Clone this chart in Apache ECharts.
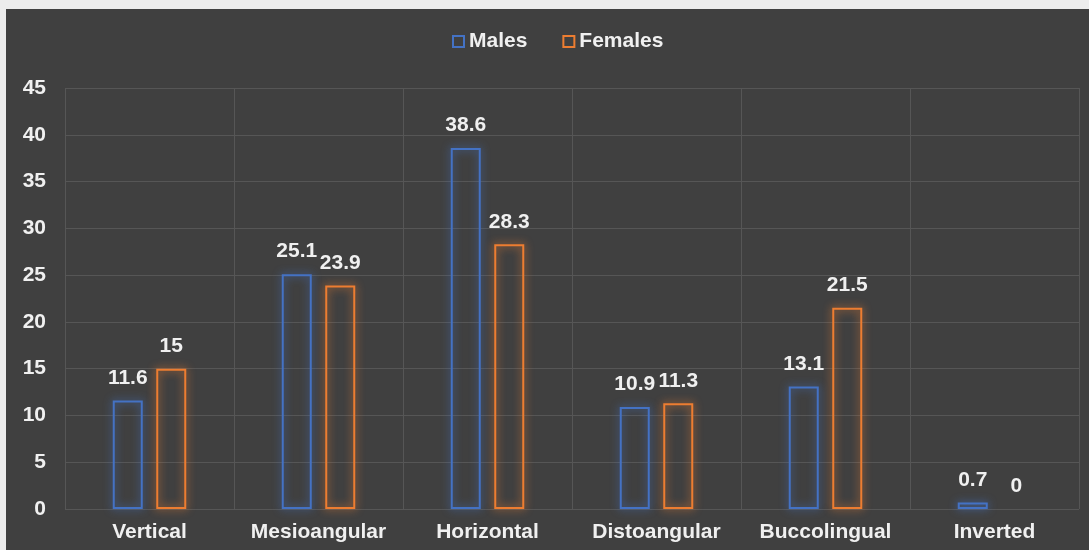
<!DOCTYPE html>
<html>
<head>
<meta charset="utf-8">
<script src="https://cdn.jsdelivr.net/npm/echarts@6/dist/echarts.min.js"></script>
<style>
html,body{margin:0;padding:0;background:#ececec;width:1089px;height:550px;overflow:hidden;}
#c{position:absolute;left:6px;top:9px;width:1083px;height:541px;background:#404040;}
</style>
</head>
<body>
<div id="c"></div>
<script>
var categories = ['Vertical', 'Mesioangular', 'Horizontal', 'Distoangular', 'Buccolingual', 'Inverted'];
var males = [11.6, 25.1, 38.6, 10.9, 13.1, 0.7];
var females = [15, 23.9, 28.3, 11.3, 21.5, 0];
var yTicks = {min: 0, max: 45, interval: 5};

var font = '"Liberation Sans", Arial, sans-serif';
var txt = '#f0f0f0';
function mk(name, data, color) {
  return {
    name: name, type: 'bar',
    data: data.map(function (v) {
      return v === 0 ? {value: v, itemStyle: {borderWidth: 0, shadowBlur: 0}} : v;
    }),
    barWidth: 30, barGap: '45%',
    itemStyle: {color: 'rgba(64,64,64,0)', borderColor: color, borderWidth: 2,
      shadowBlur: 8, shadowColor: color},
    label: {show: true, position: 'top', distance: 12, color: txt,
      fontFamily: font, fontWeight: 'bold', fontSize: 21}
  };
}
var chart = echarts.init(document.getElementById('c'));
chart.setOption({
  backgroundColor: '#404040',
  animation: false,
  legend: {
    top: 22, left: 446, padding: 0, itemWidth: 11, itemHeight: 11, itemGap: 35,
    textStyle: {color: txt, fontFamily: font, fontWeight: 'bold', fontSize: 21},
    data: [
      {name: 'Males', icon: 'rect', itemStyle: {color: 'rgba(0,0,0,0)', borderColor: '#4472C4', borderWidth: 2}},
      {name: 'Females', icon: 'rect', itemStyle: {color: 'rgba(0,0,0,0)', borderColor: '#ED7D31', borderWidth: 2}}
    ]
  },
  grid: {left: 59, top: 79, right: 10, bottom: 41, containLabel: false},
  xAxis: {
    type: 'category', data: categories,
    axisLine: {show: false}, axisTick: {show: false},
    splitLine: {show: true, interval: 0, lineStyle: {color: '#565656', width: 1}},
    axisLabel: {color: txt, fontFamily: font, fontWeight: 'bold', fontSize: 21, margin: 13, interval: 0}
  },
  yAxis: {
    type: 'value', min: yTicks.min, max: yTicks.max, interval: yTicks.interval,
    axisLine: {show: false}, axisTick: {show: false},
    splitLine: {show: true, lineStyle: {color: '#565656', width: 1}},
    axisLabel: {color: txt, fontFamily: font, fontWeight: 'bold', fontSize: 21, margin: 19}
  },
  series: [mk('Males', males, '#4472C4'), mk('Females', females, '#ED7D31')]
});
</script>
</body>
</html>
